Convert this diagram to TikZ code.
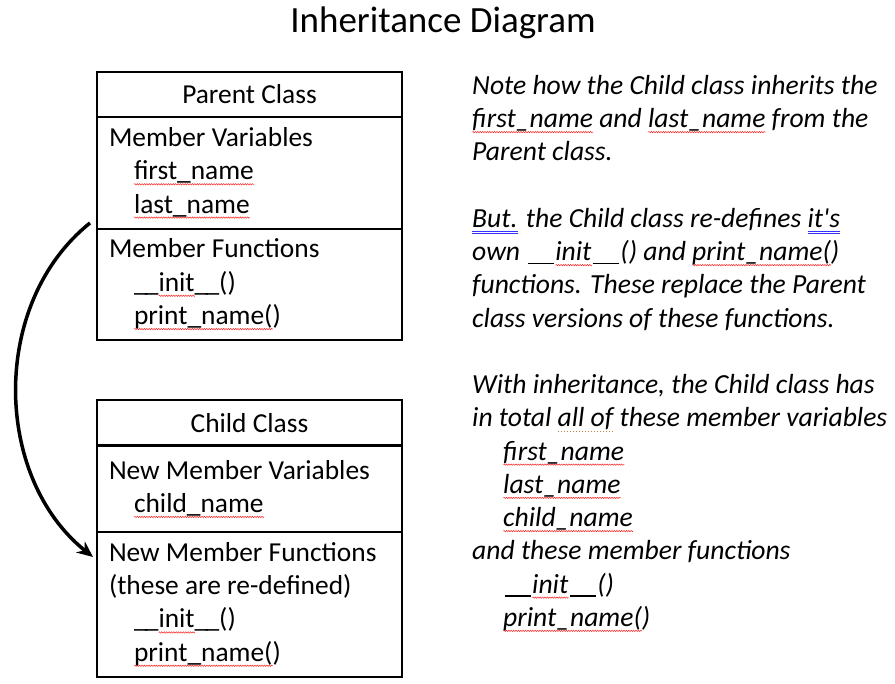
\documentclass[tikz,border=0pt]{standalone}
\usepackage{fontspec}
\setmainfont{Carlito}
\usepackage{xcolor}
\usepackage{tikz}
\usetikzlibrary{arrows.meta,positioning,decorations.pathmorphing}

\newlength\markw
\newcommand\spell[1]{\settowidth\markw{#1}\rlap{\tikz[baseline=0pt]\draw[red!85, line width=0.5pt, decorate, decoration={zigzag, amplitude=0.7pt, segment length=2.4pt}] (0pt,-4.5pt) -- (\markw,-4.5pt);}#1}
\newcommand\gram[1]{\settowidth\markw{#1}\rlap{\tikz[baseline=0pt]\draw[blue!80, line width=0.5pt] (0pt,-4pt) -- (\markw,-4pt) (0pt,-5.6pt) -- (\markw,-5.6pt);}#1}
\newcommand\wordy[1]{\settowidth\markw{#1}\rlap{\tikz[baseline=0pt]\draw[brown, line width=1pt, dotted] (0pt,-4.5pt) -- (\markw,-4.5pt);}#1}
\newcommand\uu{\_\kern-.1em\_}
\newcommand\iuu{\kern.05em\rule[-3.6pt]{.95em}{1.4pt}\kern.05em}
\newcommand\ind{\hspace*{25pt}}
\newcommand\nind{\hspace*{31pt}}

\begin{document}
\begin{tikzpicture}[x=1pt, y=-1pt,
  every node/.style={font=\fontsize{27.4}{33.3}\selectfont},
  head/.style={draw, line width=1.5pt, outer sep=0pt, minimum width=305pt, inner sep=0pt},
  sect/.style={draw, line width=1.5pt, outer sep=0pt, minimum width=305pt, text width=281pt, inner xsep=12pt, inner ysep=0pt, align=flush left},
  arrow/.style={-{Stealth[length=16pt,width=14pt]}, line width=3.5pt}
]
\useasboundingbox (0,0) rectangle (895,684);
\node[font=\fontsize{37}{44}\selectfont] (title) at (443,23) {Inheritance Diagram};

\node[head, minimum height=45pt] (phead) at (249.5,94.5) {Parent Class};
\node[sect, minimum height=112pt, below=0pt of phead] (pvars) {Member Variables\\\ind\spell{first\_name}\\\ind\spell{last\_name}};
\node[sect, minimum height=111pt, below=0pt of pvars] (pfun) {Member Functions\\\ind\uu\spell{init}\uu()\\\ind\spell{print\_name(})};

\node[head, minimum height=46pt] (chead) at (249.5,423) {Child Class};
\node[sect, minimum height=86pt, below=0pt of chead] (cvars) {New Member Variables\\\ind\spell{child\_name}};
\node[sect, minimum height=145pt, below=0pt of cvars] (cfun) {New Member Functions\\(these are re-defined)\\\ind\uu\spell{init}\uu()\\\ind\spell{print\_name(})};
\draw[line width=3pt] (chead.south west) -- (chead.south east);

\node[anchor=north west, align=flush left, inner sep=0pt, font=\itshape\fontsize{27.6}{33.25}\selectfont] (note) at (472,75) {%
Note how the Child class inherits the\\
\spell{first\_name} and \spell{last\_name} from the\\
Parent class.\\[33.25pt]
\gram{But.} the Child class re-defines \gram{it\textquotesingle s}\\
own \iuu\spell{init}\iuu() and \spell{print\_name(})\\
functions. These replace the Parent\\
class versions of these functions.\\[33.25pt]
With inheritance, the Child class has\\
in total \wordy{all of} these member variables\\
\nind\spell{first\_name}\\
\nind\spell{last\_name}\\
\nind\spell{child\_name}\\
and these member functions\\
\nind\iuu\spell{init}\iuu()\\
\nind\spell{print\_name(})};

\coordinate (pstart) at ([xshift=-7pt,yshift=6pt]pvars.south west);
\coordinate (cend) at ([xshift=-4pt,yshift=-25pt]cfun.north west);
\draw[arrow] (pstart) .. controls +(-100,80) and +(-100,-80) .. (cend);
\end{tikzpicture}
\end{document}
